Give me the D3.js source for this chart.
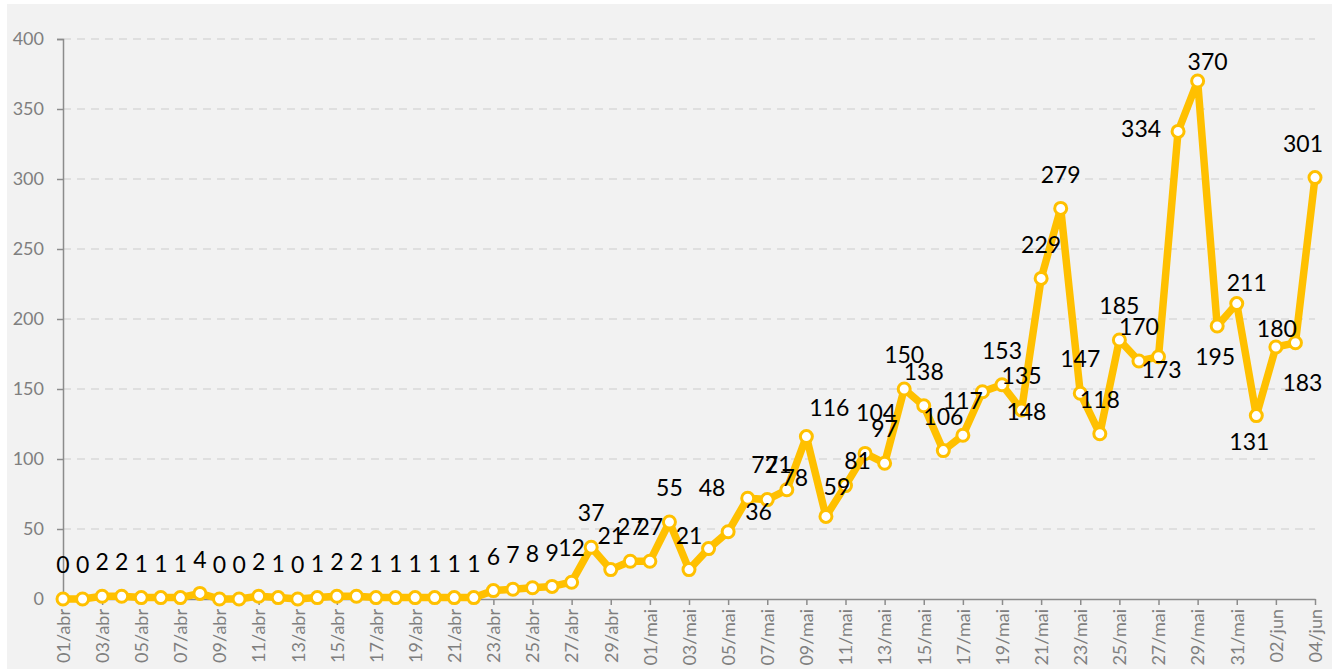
<!DOCTYPE html>
<html>
<head>
<meta charset="utf-8">
<script src="https://cdn.jsdelivr.net/npm/d3@7"></script>
<style>
  html, body { margin: 0; padding: 0; background: #ffffff; }
  svg { display: block; }
</style>
</head>
<body>
<svg id="chart" width="1336" height="669"></svg>
<script>
// ---- DATA ----
const dates = [
  "01/abr","02/abr","03/abr","04/abr","05/abr","06/abr","07/abr","08/abr","09/abr","10/abr",
  "11/abr","12/abr","13/abr","14/abr","15/abr","16/abr","17/abr","18/abr","19/abr","20/abr",
  "21/abr","22/abr","23/abr","24/abr","25/abr","26/abr","27/abr","28/abr","29/abr","30/abr",
  "01/mai","02/mai","03/mai","04/mai","05/mai","06/mai","07/mai","08/mai","09/mai","10/mai",
  "11/mai","12/mai","13/mai","14/mai","15/mai","16/mai","17/mai","18/mai","19/mai","20/mai",
  "21/mai","22/mai","23/mai","24/mai","25/mai","26/mai","27/mai","28/mai","29/mai","30/mai",
  "31/mai","01/jun","02/jun","03/jun","04/jun"
];
const values = [
  0,0,2,2,1,1,1,4,0,0,
  2,1,0,1,2,2,1,1,1,1,
  1,1,6,7,8,9,12,37,21,27,
  27,55,21,36,48,72,71,78,116,59,
  81,104,97,150,138,106,117,148,153,135,
  229,279,147,118,185,170,173,334,370,195,
  211,131,180,183,301
];
const xTickLabels = [
  "01/abr","03/abr","05/abr","07/abr","09/abr","11/abr","13/abr","15/abr","17/abr","19/abr",
  "21/abr","23/abr","25/abr","27/abr","29/abr","01/mai","03/mai","05/mai","07/mai","09/mai",
  "11/mai","13/mai","15/mai","17/mai","19/mai","21/mai","23/mai","25/mai","27/mai","29/mai",
  "31/mai","02/jun","04/jun"
];
const yTicks = [0,50,100,150,200,250,300,350,400];

// ---- LAYOUT / STYLE ----
const W = 1336, H = 669;
const mLeft = 63, mRight = 1315, mTop = 39, mBottom = 599;
const gold = "#ffc000";
const axisColor = "#8c8c8c";
const tickText = "#7f7f7f";
const defaultLabelOffset = [0, -34];
// label placement exceptions (pixel offsets from the point), keyed by point index
const labelOffsetOverrides = {
  33: [50, -37], 34: [-16, -44], 35: [17, -33], 36: [11, -35], 37: [8, -12],
  38: [23, -29], 39: [11, -30], 40: [12, -25], 41: [11, -41], 47: [44, 20],
  56: [3, 13], 57: [-37, -3], 58: [10, -19], 59: [-2, 31], 60: [10, -21],
  61: [-7, 26], 62: [1, -18], 63: [7, 40], 64: [-12, -34]
};

const svg = d3.select("#chart");

svg.append("rect")
  .attr("x", 7).attr("y", 4)
  .attr("width", 1325).attr("height", H - 4)
  .attr("fill", "#f2f2f2");

// stray cut-off character at the very top
svg.append("text")
  .attr("x", 1217).attr("y", -3)
  .attr("font-family", "Lato, sans-serif")
  .attr("font-size", 16)
  .attr("fill", "#222")
  .text(",");

const x = d3.scalePoint().domain(dates).range([mLeft, mRight]);
const y = d3.scaleLinear().domain([0, 400]).range([mBottom, mTop]);

// gridlines
svg.append("g")
  .selectAll("line")
  .data(yTicks.filter(d => d > 0))
  .join("line")
  .attr("x1", mLeft).attr("x2", mRight)
  .attr("y1", d => y(d)).attr("y2", d => y(d))
  .attr("stroke", "#d9d9d9")
  .attr("stroke-width", 1.3)
  .attr("stroke-dasharray", "8,6");

// y axis
const yAxis = svg.append("g")
  .attr("transform", `translate(${mLeft},0)`)
  .call(d3.axisLeft(y).tickValues(yTicks).tickSize(6).tickPadding(13).tickFormat(d3.format("d")));
yAxis.select(".domain").attr("stroke", axisColor).attr("stroke-width", 1.5);
yAxis.selectAll(".tick line").attr("stroke", axisColor).attr("stroke-width", 1.5);
yAxis.selectAll(".tick text")
  .attr("fill", tickText)
  .attr("font-family", "Lato, sans-serif")
  .attr("font-size", 18);

// x axis
const xAxis = svg.append("g")
  .attr("transform", `translate(0,${mBottom})`)
  .call(d3.axisBottom(x).tickValues(xTickLabels).tickSize(6).tickSizeOuter(0));
xAxis.select(".domain").attr("stroke", axisColor).attr("stroke-width", 1.5);
xAxis.selectAll(".tick line").attr("stroke", axisColor).attr("stroke-width", 1.5);
xAxis.selectAll(".tick text")
  .attr("fill", tickText)
  .attr("font-family", "Lato, sans-serif")
  .attr("font-size", 18)
  .attr("text-anchor", "end")
  .attr("transform", "rotate(-90)")
  .attr("x", -10)
  .attr("y", 0)
  .attr("dy", "0.35em");

// line
const pts = dates.map((d, i) => ({ date: d, value: values[i], i }));
svg.append("path")
  .datum(pts)
  .attr("fill", "none")
  .attr("stroke", gold)
  .attr("stroke-width", 7.5)
  .attr("stroke-linejoin", "round")
  .attr("stroke-linecap", "round")
  .attr("d", d3.line().x(d => x(d.date)).y(d => y(d.value)));

// markers
svg.append("g")
  .selectAll("circle")
  .data(pts)
  .join("circle")
  .attr("cx", d => x(d.date))
  .attr("cy", d => y(d.value))
  .attr("r", 6)
  .attr("fill", "#ffffff")
  .attr("stroke", gold)
  .attr("stroke-width", 3);

// data labels
svg.append("g")
  .selectAll("text")
  .data(pts)
  .join("text")
  .attr("x", d => x(d.date) + (labelOffsetOverrides[d.i] || defaultLabelOffset)[0])
  .attr("y", d => y(d.value) + (labelOffsetOverrides[d.i] || defaultLabelOffset)[1])
  .attr("dy", "0.36em")
  .attr("text-anchor", "middle")
  .attr("font-family", "Lato, sans-serif")
  .attr("font-size", 23)
  .attr("fill", "#000000")
  .text(d => d.value);
</script>
</body>
</html>
